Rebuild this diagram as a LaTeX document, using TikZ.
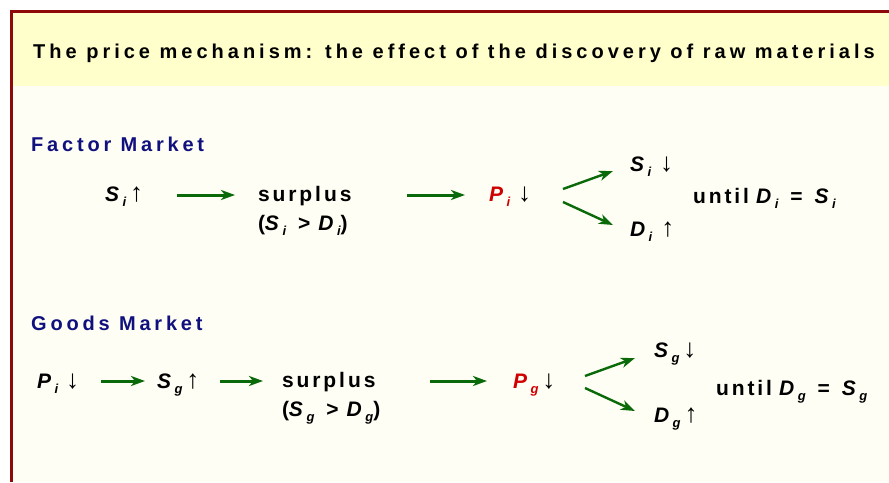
\documentclass[tikz,border=0pt]{standalone}
\usepackage{fontspec}
\setmainfont{Liberation Sans}
\newfontfamily\arrfont{Liberation Sans}
\usetikzlibrary{arrows.meta}
\definecolor{band}{HTML}{FFFFCC}
\definecolor{cream}{HTML}{FEFEF4}
\definecolor{border}{HTML}{8E0A0A}
\definecolor{navy}{HTML}{10107F}
\definecolor{agreen}{HTML}{0A6A0A}
\definecolor{pred}{HTML}{D00000}
\newcommand\vv[3][black]{{\color{#1}\bfseries\itshape #2\kern3.5pt\raisebox{-4.5pt}{\fontsize{13}{13}\selectfont #3}}}
\newcommand\myup{{\arrfont\fontsize{26}{26}\selectfont\kern4pt↑}}
\newcommand\mydn{{\arrfont\fontsize{26}{26}\selectfont\kern4pt↓}}
\newcommand\wsp{\hspace*{12pt}}
\newcommand\nsp{\hspace*{8pt}}
\tikzset{
  rowtxt/.style={inner sep=0pt, outer sep=0pt, text height=15pt, text depth=0pt, anchor=west, align=left,
    font=\fontsize{21}{24}\selectfont\bfseries\addfontfeature{LetterSpace=14}},
  heading/.style={inner sep=0pt, anchor=west, text height=14pt, text depth=0pt, text=navy,
    font=\fontsize{20}{22}\selectfont\bfseries\addfontfeature{LetterSpace=19}},
  arr/.style={draw=agreen, line width=3pt, -{Stealth[length=14pt,width=10pt,inset=4pt]}},
  darr/.style={draw=agreen, line width=2.4pt, -{Stealth[length=14pt,width=10pt,inset=4pt]}}
}
\begin{document}
\begin{tikzpicture}[x=1pt,y=-1pt]
\useasboundingbox (0,0) rectangle (889,482);
\fill[white] (0,0) rectangle (889,482);
\fill[cream] (11.5,11.5) rectangle (889,482);
\fill[band] (11.5,11.5) rectangle (889,86);
\draw[border, line width=3pt] (11.5,482) -- (11.5,11.5) -- (889,11.5);

\node[anchor=base west, inner sep=0pt] (title) at (33,58)
  {\fontsize{20}{22}\selectfont\bfseries\addfontfeature{LetterSpace=20}The price mechanism: the effect of the discovery of raw materials};

% Factor market
\node[heading] (fm) at (31,144) {Factor Market};
\node[rowtxt, text width=40pt] (si1) at (105,194) {\vv{S}{i}\myup};
\node[rowtxt, text width=100pt] (sur1) at (258,194) {surplus};
\node[rowtxt, text width=100pt] (sgd1) at (258,223) {(\vv{S}{i}\wsp>\nsp\vv{D}{i})};
\node[rowtxt, text width=48pt] (pi1) at (489,194) {\vv[pred]{P}{i}\kern4pt\mydn};
\node[rowtxt, text width=48pt] (sid) at (630,164) {\vv{S}{i}\kern5pt\mydn};
\node[rowtxt, text width=50pt] (diu) at (630,229) {\vv{D}{i}\kern5pt\myup};
\node[rowtxt, text width=170pt] (until1) at (693,196) {until \vv{D}{i}\wsp=\wsp\vv{S}{i}};

\draw[arr] ([shift={(32,1)}]si1.east) -- ([shift={(-23,1)}]sur1.west);
\draw[arr] ([shift={(49,1)}]sur1.east) -- ([shift={(-24,1)}]pi1.west);
\draw[darr] ([shift={(26,-5)}]pi1.east) -- ([shift={(-17,7)}]sid.west);
\draw[darr] ([shift={(26,8)}]pi1.east) -- ([shift={(-17,-4)}]diu.west);

% Goods market
\node[heading] (gm) at (31,323) {Goods Market};
\node[rowtxt, text width=49pt] (pi2) at (37,381) {\vv{P}{i}\kern4pt\mydn};
\node[rowtxt, text width=48pt] (sgu) at (157,381) {\vv{S}{g}\myup};
\node[rowtxt, text width=110pt] (sur2) at (282,380) {surplus};
\node[rowtxt, text width=110pt] (sgd2) at (282,409) {(\vv{S}{g}\wsp>\nsp\vv{D}{g})};
\node[rowtxt, text width=47pt] (pg) at (513,381) {\vv[pred]{P}{g}\mydn};
\node[rowtxt, text width=46pt] (sgdn) at (654,350) {\vv{S}{g}\mydn};
\node[rowtxt, text width=49pt] (dgu) at (654,415) {\vv{D}{g}\myup};
\node[rowtxt, text width=170pt] (until2) at (716,388) {until \vv{D}{g}\wsp=\wsp\vv{S}{g}};

\draw[arr] ([shift={(15,0)}]pi2.east) -- ([shift={(-12,0)}]sgu.west);
\draw[arr] ([shift={(15,0)}]sgu.east) -- ([shift={(-19,1)}]sur2.west);
\draw[arr] ([shift={(38,1)}]sur2.east) -- ([shift={(-26,0)}]pg.west);
\draw[darr] ([shift={(25,-5)}]pg.east) -- ([shift={(-19,8)}]sgdn.west);
\draw[darr] ([shift={(25,7)}]pg.east) -- ([shift={(-19,-4)}]dgu.west);
\end{tikzpicture}
\end{document}
